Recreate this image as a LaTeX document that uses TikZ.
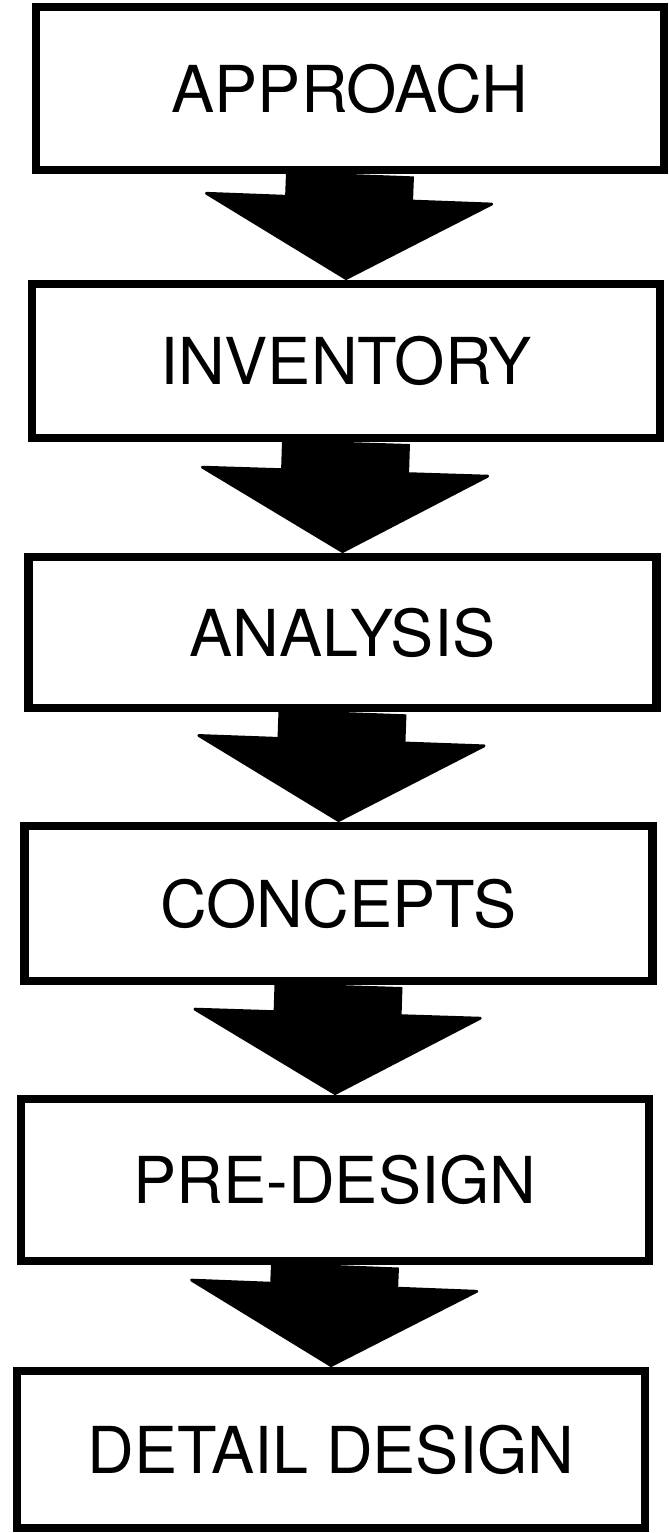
\documentclass[tikz,border=0pt]{standalone}
\usepackage{fontspec}
\setmainfont{TeX Gyre Heros}
\usepackage{tikz}
\usetikzlibrary{arrows.meta}

\begin{document}
\begin{tikzpicture}[x=0.25mm,y=-0.25mm,
	stage/.style={draw, line width=2.1mm, minimum width=157mm, inner sep=0pt, font=\fontsize{46}{50}\selectfont},
	bigarrow/.style={line width=32mm, -{Triangle[length=20.75mm, width=74mm, line width=2pt, round]}}]
	
	\useasboundingbox (0,0) rectangle (668,1533);
	
	\node[stage, minimum height=40.65mm] (approach) at (350,88.5) {APPROACH};
	\node[stage, minimum height=38.4mm] (inventory) at (346,361) {INVENTORY};
	\node[stage, minimum height=37.65mm] (analysis) at (342.5,632.5) {ANALYSIS};
	\node[stage, minimum height=38.65mm] (concepts) at (338.5,903.5) {CONCEPTS};
	\node[stage, minimum height=40.4mm] (predesign) at (335,1180) {PRE-DESIGN};
	\node[stage, minimum height=39.15mm] (detail) at (331,1449.5) {DETAIL DESIGN};
	
	\foreach \a/\b in {approach/inventory, inventory/analysis, analysis/concepts, concepts/predesign, predesign/detail}
		\draw[bigarrow] (\a.south) -- (\b.north);
	
\end{tikzpicture}
\end{document}
